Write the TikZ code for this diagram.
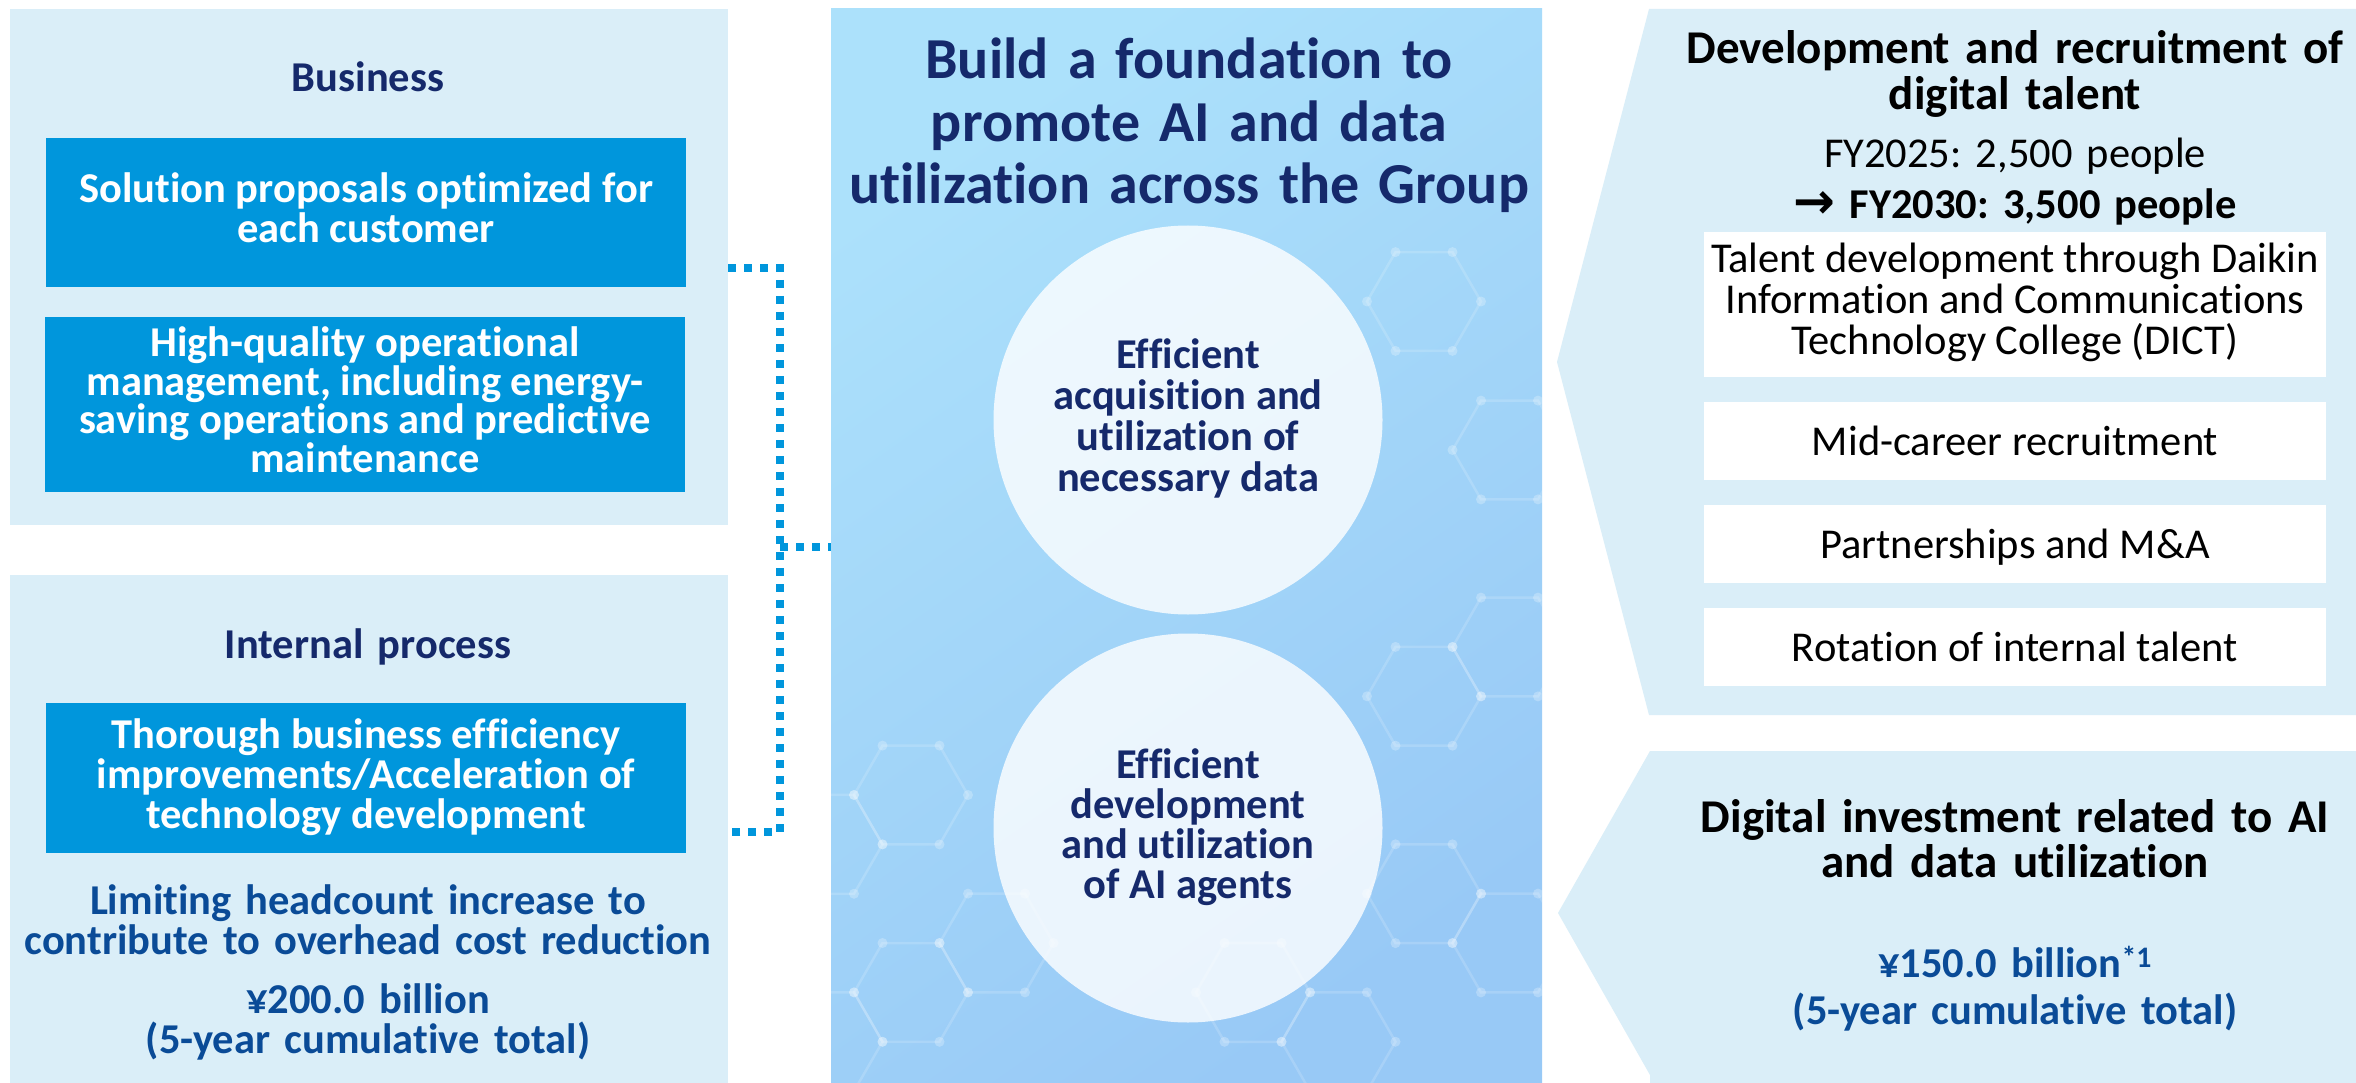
\documentclass[tikz,border=0pt]{standalone}
\usepackage{fontspec}
\setmainfont{Carlito}[Ligatures=NoCommon]
\newfontfamily\symfont{DejaVu Sans}
\definecolor{navy}{HTML}{15296B}
\definecolor{deepblue}{HTML}{0A4B97}
\definecolor{boxblue}{HTML}{0096DC}
\definecolor{paleblue}{HTML}{DAEEF8}
\definecolor{panelL}{RGB}{172,225,251}
\definecolor{panelR}{RGB}{152,201,246}
\lineskiplimit=-1000pt
\frenchspacing
\begin{document}
\begin{tikzpicture}[x=1pt,y=-1pt,
  body/.style={font=\bfseries\fontsize{42.5}{40}\selectfont},
  reg/.style={font=\fontsize{42.5}{41}\selectfont},
  pale/.style={fill=paleblue, draw=none, inner sep=0pt},
  bluebox/.style={fill=boxblue, text=white, inner sep=0pt, minimum width=640pt,
    align=center, body, text depth=0pt},
  whitebox/.style={fill=white, text=black, inner sep=0pt, minimum width=622pt,
    align=center, reg, text depth=0pt},
  heading/.style={inner sep=0pt, anchor=base, align=center, text width=720pt},
  disc/.style={circle, fill=white, fill opacity=0.8, text opacity=1, minimum size=389pt,
    inner sep=0pt, text=navy, align=center,
    font=\bfseries\fontsize{42.5}{41}\selectfont, text depth=0pt},
  hexline/.style={draw=white, line width=2.5pt, opacity=0.16},
  hexdot/.style={fill=white, opacity=0.25},
  dotline/.style={draw=boxblue, line width=8pt, dash pattern=on 8pt off 8pt},
]
\useasboundingbox (0,0) rectangle (2356,1083);
\fill[white] (0,0) rectangle (2356,1083);

% ---------- left column: business / internal process ----------
\node[pale, minimum width=718pt, minimum height=516pt] (biz) at (369,267) {};
\node[heading, body, text=navy] (bizhead) at (368,92) {Business};
\node[bluebox, minimum height=149pt, text height=60pt] (b1) at (366,212.5)
  {Solution proposals optimized for\\each customer};
\node[bluebox, minimum height=175pt, font=\bfseries\fontsize{42.5}{38.5}\selectfont,
  text height=135.5pt] (b2) at (365,404.5)
  {High-quality operational\\management, including energy-\\saving operations and predictive\\maintenance};

\node[pale, minimum width=718pt, minimum height=508pt] (ipbox) at (369,829) {};
\node[heading, body, text=navy] (iphead) at (368,658) {Internal process};
\node[bluebox, minimum height=150pt, text height=100pt] (b3) at (366,778)
  {Thorough business efficiency\\improvements/Acceleration of\\technology development};
\node[heading, body, text=deepblue] (limit) at (368,914)
  {Limiting headcount increase to\\contribute to overhead cost reduction};
\node[heading, body, text=deepblue] (cost) at (368,1013)
  {¥200.0 billion\\(5-year cumulative total)};

% ---------- centre panel ----------
\node[inner sep=0pt, minimum width=711pt, minimum height=1074pt,
  top color=panelL, bottom color=panelR, shading angle=35] (panel) at (1186.5,546) {};

\begin{scope}
  \clip (panel.north west) rectangle (panel.south east);
  \foreach \cx/\cy in {911/795, 996.5/943, 825.5/844.35, 911/992.4, 825.5/1041.75,
      1424/696.3, 1509.5/647, 1509.5/450, 1424/893.7, 1338.5/1041.75,
      1509.5/943, 1424/301.5, 1253/992.4} {
    \draw[hexline] ({\cx+57},\cy) -- ({\cx+28.5},{\cy+49.4}) -- ({\cx-28.5},{\cy+49.4})
      -- ({\cx-57},\cy) -- ({\cx-28.5},{\cy-49.4}) -- ({\cx+28.5},{\cy-49.4}) -- cycle;
    \foreach \vx/\vy in {57/0, 28.5/49.4, -28.5/49.4, -57/0, -28.5/-49.4, 28.5/-49.4}
      \fill[hexdot] ({\cx+\vx},{\cy+\vy}) circle (5pt);
  }
\end{scope}

\node[heading, text=navy, font=\bfseries\fontsize{58}{62.5}\selectfont] (title)
  at (1189,78.6) {Build a foundation to\\promote AI and data\\utilization across the Group};
\node[disc, text height=143pt] (c1) at (1188,420)
  {Efficient\\acquisition and\\utilization of\\necessary data};
\node[disc, font=\bfseries\fontsize{42.5}{40}\selectfont, text height=140pt] (c2) at (1188,828)
  {Efficient\\development\\and utilization\\of AI agents};

% ---------- dotted connector ----------
\coordinate (tapA) at (728,268);
\coordinate (tapB) at (728,832);
\coordinate (jn) at (780,547);
\draw[dotline] (tapA) -| (jn) |- (tapB);
\draw[dotline] (jn) -- (jn -| panel.west);

% ---------- right column: talent ----------
\fill[paleblue] (1649,9) -- (1557,362) -- (1649,715) -- (2356,715) -- (2356,9) -- cycle;
\node[heading, text=black, font=\bfseries\fontsize{47}{45.5}\selectfont] (talenthead)
  at (2015,64) {Development and recruitment of\\digital talent};
\node[heading, reg] (fy25) at (2015,168) {FY2025: 2,500 people};
\node[heading, reg] (fy30) at (2015,219)
  {{\symfont\bfseries\fontsize{50}{50}\selectfont →} \textbf{FY2030: 3,500 people}};
\node[whitebox, minimum height=145pt, text height=101pt] (w1) at (2015,304.5)
  {Talent development through Daikin\\Information and Communications\\Technology College (DICT)};
\node[whitebox, minimum height=78pt, text height=28pt] (w2) at (2015,441)
  {Mid-career recruitment};
\node[whitebox, minimum height=78pt, text height=28pt] (w3) at (2015,544)
  {Partnerships and M\&A};
\node[whitebox, minimum height=78pt, text height=28pt] (w4) at (2015,647)
  {Rotation of internal talent};

% ---------- right column: investment ----------
\fill[paleblue] (1650,751) -- (1558,913) -- (1650,1075) -- (1650,1083) -- (2356,1083)
  -- (2356,751) -- cycle;
\node[heading, text=black, font=\bfseries\fontsize{47}{45}\selectfont] (invhead)
  at (2015,832) {Digital investment related to AI\\and data utilization};
\node[heading, text=deepblue, font=\bfseries\fontsize{42.5}{47}\selectfont] (invamt)
  at (2015,977) {¥150.0 billion\textsuperscript{*1}\\(5-year cumulative total)};
\end{tikzpicture}
\end{document}
